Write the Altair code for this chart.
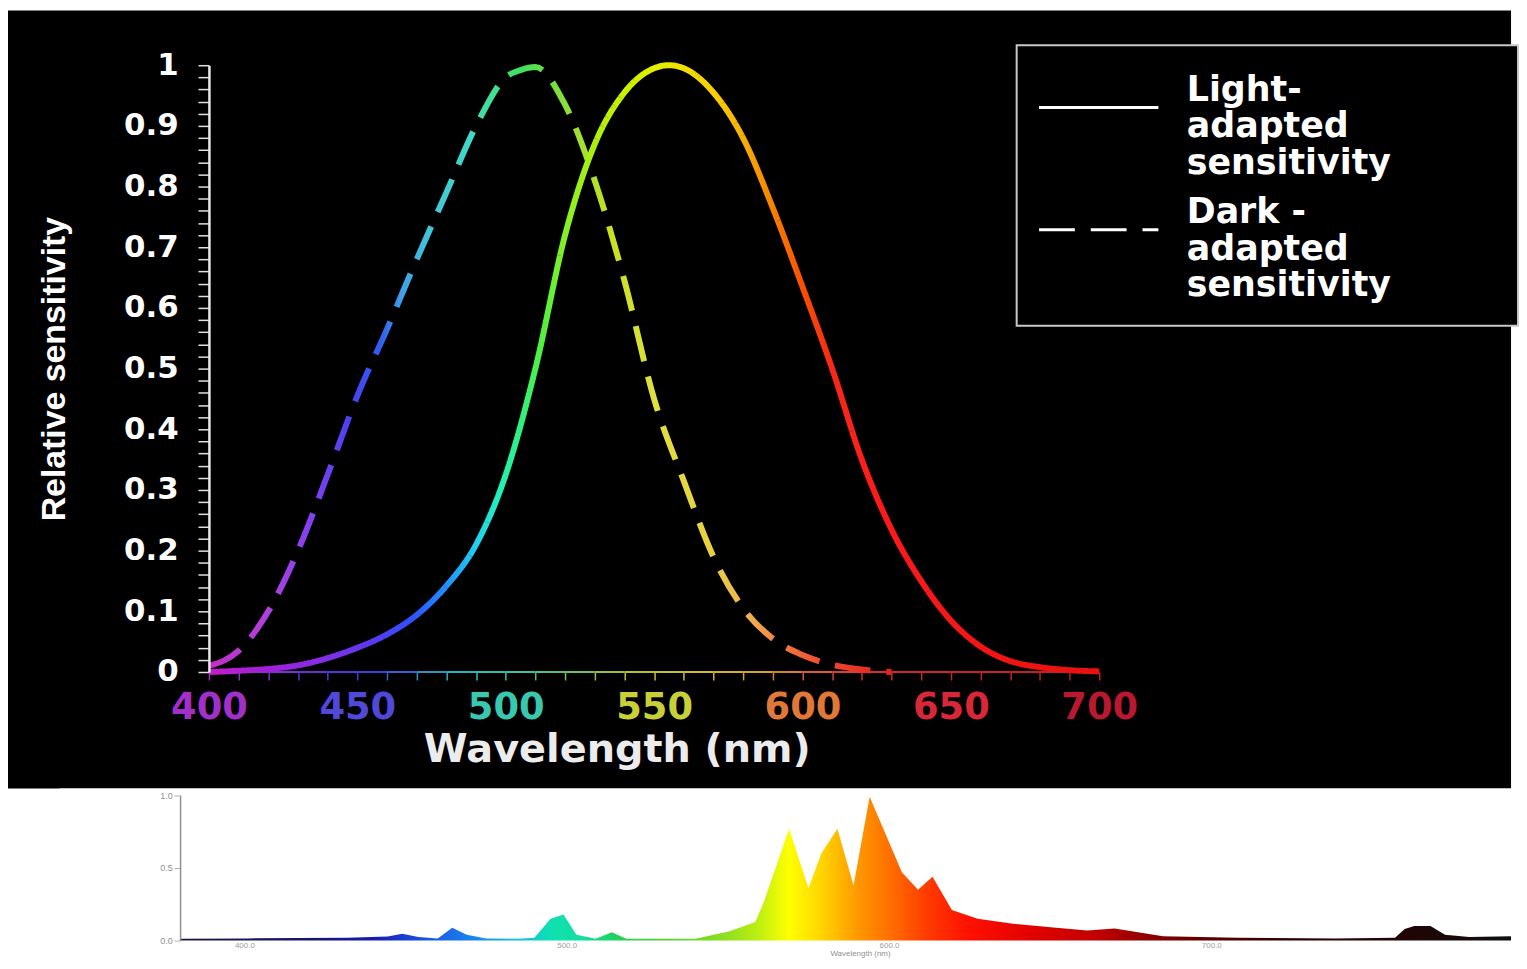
import json
import altair as alt
import pandas as pd

# ---------------- top chart data ----------------
light_wl = [400, 410, 420, 430, 440, 450, 460, 470, 480, 490, 500, 510, 520, 530, 540,
            550, 555, 560, 570, 580, 590, 600, 610, 620, 630, 640, 650, 660, 670, 680, 690, 700]
light_val = [0.0, 0.002, 0.005, 0.011, 0.023, 0.040, 0.062, 0.094, 0.142, 0.21, 0.325, 0.50,
             0.72, 0.87, 0.955, 0.995, 1.0, 0.995, 0.955, 0.88, 0.765, 0.635, 0.50, 0.35,
             0.235, 0.15, 0.085, 0.042, 0.018, 0.008, 0.003, 0.001]

dark_wl = [400, 410, 420, 430, 440, 450, 460, 470, 480, 490, 500, 505, 510, 520, 530, 540,
           550, 560, 570, 580, 590, 600, 610, 620, 630]
dark_val = [0.01, 0.035, 0.10, 0.20, 0.325, 0.455, 0.565, 0.68, 0.79, 0.90, 0.98, 0.992,
            0.997, 0.935, 0.81, 0.645, 0.45, 0.315, 0.19, 0.105, 0.055, 0.028, 0.012, 0.004, 0.0]

series_names = ["Light", "Dark"]
legend_lines = {"Light": ["Light-", "adapted", "sensitivity"],
                "Dark": ["Dark -", "adapted", "sensitivity"]}

light_stop_wl = [400, 420, 440, 455, 468, 480, 490, 497, 505, 512, 522, 535, 550, 560, 570,
                 580, 590, 600, 610, 625, 700]
light_stop_col = ["#c020c8", "#a020d8", "#8030e8", "#5a38f0", "#3050ff", "#2090ff", "#20d0f0",
                  "#20f0c0", "#30f080", "#50f040", "#90f020", "#c0f000", "#e0f000", "#f0e000",
                  "#f8d000", "#f8b000", "#f88000", "#f85000", "#f82818", "#ff1a1a", "#e81010"]

dark_stop_wl = [400, 420, 435, 448, 458, 465, 475, 488, 496, 505, 515, 525, 535, 550, 570,
                582, 592, 605, 630]
dark_stop_col = ["#c030c0", "#b040e0", "#8040f0", "#4a40f0", "#3060f0", "#40a0e8", "#40c8d8",
                 "#40d8c8", "#40e090", "#40e060", "#70e040", "#a0e030", "#c8e020", "#e0e040",
                 "#e8d040", "#f0b050", "#f08040", "#f05030", "#e02020"]

x_tick_wl = list(range(400, 701, 10))
x_tick_col = ["#a030c0", "#9030c8", "#8030d0", "#6a30d8", "#5035d8", "#4040d8", "#3860d0",
              "#3090c8", "#30b0c0", "#30c0b0", "#40c0a0", "#50c080", "#70c060", "#98c040",
              "#b8c030", "#c8c030", "#d0c030", "#d8b030", "#d8a030", "#d88030", "#d86030",
              "#d84030", "#d03030", "#d02828", "#d02828", "#c82424", "#c82424", "#c42222",
              "#c42222", "#c02020", "#c02020"]
x_label_wl = [400, 450, 500, 550, 600, 650, 700]
x_label_col = ["#a030c8", "#5048d8", "#38c8b0", "#c8d038", "#e07838", "#d82838", "#b81830"]

y_tick_vals = [round(i * 0.02, 2) for i in range(51)]

# ---------------- bottom chart data ----------------
spec_wl = [380, 401, 417, 432, 444.5, 449, 454, 460, 464.5, 469, 475, 485, 490, 495, 499, 503,
           509, 514, 518.5, 540, 550.5, 558.5, 561, 569, 575, 579, 584, 589, 594, 604, 609,
           613.5, 619.5, 627.5, 639, 651, 661.5, 670, 685, 708, 738.5, 757, 760, 763, 768,
           772.5, 780, 793]
spec_val = [0.012, 0.015, 0.018, 0.02, 0.028, 0.047, 0.025, 0.014, 0.088, 0.04, 0.014, 0.012,
            0.02, 0.15, 0.18, 0.04, 0.012, 0.058, 0.012, 0.012, 0.064, 0.128, 0.256, 0.77, 0.36,
            0.6, 0.77, 0.38, 0.99, 0.47, 0.35, 0.44, 0.21, 0.15, 0.115, 0.09, 0.07, 0.083,
            0.03, 0.02, 0.015, 0.02, 0.08, 0.10, 0.10, 0.04, 0.025, 0.03]
spec_stop_wl = [380, 420, 440, 455, 470, 485, 495, 505, 515, 530, 550, 560, 569, 580, 590,
                600, 612, 625, 645, 665, 690, 720, 760, 793]
spec_stop_col = ["#1a1a3a", "#151570", "#1a1ab0", "#1a50e0", "#1a80f0", "#10c0e0", "#10e0b0",
                 "#10e0a0", "#20d060", "#50d030", "#90e020", "#c0f010", "#ffff00", "#ffd000",
                 "#ff9a00", "#ff7000", "#ff3a00", "#ff1000", "#e00000", "#c00000", "#700000",
                 "#300000", "#200505", "#101010"]
spec_ticks = [400, 500, 600, 700]


def gradient(wls, cols, lo, hi):
    return alt.Gradient(
        gradient="linear",
        stops=[alt.GradientStop(offset=round((w - lo) / (hi - lo), 4), color=c)
               for w, c in zip(wls, cols)],
        x1=0, x2=1, y1=0, y2=0,
    )


def cond_colors(vals, cols, default):
    return {"condition": [{"test": f"datum.value == {v}", "value": c} for v, c in zip(vals, cols)],
            "value": default}


W1, H1 = 895, 610
W2, H2 = 1309, 146

one = pd.DataFrame({"k": [0]})

xscale = alt.Scale(domain=[400, 700], nice=False, zero=False)
yscale = alt.Scale(domain=[0, 1], nice=False, zero=True)

xaxis = alt.Axis(
    values=x_tick_wl, tickCount=len(x_tick_wl),
    labelExpr="datum.value % 50 == 0 ? datum.label : ''",
    labelColor=cond_colors(x_label_wl, x_label_col, "#c02020"),
    tickColor=cond_colors(x_tick_wl, x_tick_col, "#c02020"),
    tickSize=8, tickWidth=1.5, domain=False, grid=False,
    labelFont="DejaVu Sans", labelFontSize=37, labelFontWeight="bold",
    labelPadding=10, labelOverlap=False, labelFlush=False,
    title="Wavelength (nm)", titleColor="#ececec", titleFont="DejaVu Sans",
    titleFontSize=40, titleFontWeight="bold", titlePadding=4, titleX=410, zindex=1,
)
yaxis = alt.Axis(
    values=y_tick_vals, tickCount=len(y_tick_vals),
    labelExpr="round(datum.value * 50) % 5 == 0 ? format(datum.value, '~g') : ''",
    labelColor="white", labelFont="DejaVu Sans", labelFontSize=31, labelFontWeight="bold",
    labelPadding=20, labelOverlap=False, labelFlush=False,
    tickColor="#e0e0e0", tickSize=11, tickWidth=1.5,
    domainColor="#e8e8e8", domainWidth=2.5, grid=False,
    title="Relative sensitivity", titleColor="white", titleFont="Liberation Sans",
    titleFontSize=34, titleFontWeight="bold", titlePadding=52, zindex=1,
)

label_expr = ("datum.label == 'Light' ? " + json.dumps(legend_lines["Light"])
              + " : " + json.dumps(legend_lines["Dark"]))

# horizontal stroke symbol (120 px long at size 78^2); trailing move-to widens the legend box
legend_symbol = "M-1.538,0H1.538M10.08,0"

dash = alt.StrokeDash(
    "series:N",
    scale=alt.Scale(domain=series_names, range=[[1, 0], [36, 16]]),
    legend=alt.Legend(
        orient="none", legendX=812, legendY=-20, title=None,
        labelExpr=label_expr, symbolType=legend_symbol, symbolSize=6084,
        symbolStrokeWidth=3, symbolStrokeColor="white", symbolOffset=20,
        labelColor="white", labelFont="DejaVu Sans", labelFontSize=35,
        labelFontWeight="bold", labelLimit=700, labelOffset=48, labelBaseline="bottom",
        padding=22, rowPadding=8, strokeColor="#c8c8c8", fillColor="black", zindex=1,
    ),
)

bg_top = alt.Chart(one).mark_rect(color="black").encode(
    x=alt.value(-202), x2=alt.value(1309), y=alt.value(-55), y2=alt.value(H1 + 117)
)

seg_df = pd.DataFrame({"wl": x_tick_wl[:-1], "wl2": x_tick_wl[1:], "col": x_tick_col[:-1],
                       "v": [0.0] * (len(x_tick_wl) - 1)})
axis_line = alt.Chart(seg_df).mark_rule(strokeWidth=2).encode(
    x=alt.X("wl:Q", scale=xscale, axis=xaxis),
    x2="wl2:Q",
    y=alt.Y("v:Q", scale=yscale, axis=yaxis),
    color=alt.Color("col:N", scale=None),
)

light_df = pd.DataFrame({"wl": light_wl, "v": light_val, "series": series_names[0]})
dark_df = pd.DataFrame({"wl": dark_wl, "v": dark_val, "series": series_names[1]})

light_line = alt.Chart(light_df).mark_line(
    stroke=gradient(light_stop_wl, light_stop_col, min(light_wl), max(light_wl)),
    strokeWidth=6, interpolate="monotone",
).encode(
    x=alt.X("wl:Q", scale=xscale, axis=xaxis),
    y=alt.Y("v:Q", scale=yscale, axis=yaxis),
    strokeDash=dash,
)
dark_line = alt.Chart(dark_df).mark_line(
    stroke=gradient(dark_stop_wl, dark_stop_col, min(dark_wl), max(dark_wl)),
    strokeWidth=6, interpolate="monotone",
).encode(
    x=alt.X("wl:Q", scale=xscale, axis=xaxis),
    y=alt.Y("v:Q", scale=yscale, axis=yaxis),
    strokeDash=dash,
)

top = alt.layer(bg_top, axis_line, dark_line, light_line).properties(width=W1, height=H1)

# ---------------- bottom chart ----------------
# plot origin shares the top chart's left edge; 380 nm falls 29 px to its left
sxscale = alt.Scale(domain=[389, 793], nice=False, zero=False)
syscale = alt.Scale(domain=[0, 1], nice=False)

bg_bot = alt.Chart(one).mark_rect(color="white").encode(
    x=alt.value(-150), x2=alt.value(W2), y=alt.value(-7), y2=alt.value(H2 + 40)
)
spec_df = pd.DataFrame({"wl": spec_wl, "v": spec_val})
area = alt.Chart(spec_df).mark_area(
    fill=gradient(spec_stop_wl, spec_stop_col, min(spec_wl), max(spec_wl)),
    interpolate="linear",
).encode(
    x=alt.X("wl:Q", scale=sxscale, axis=alt.Axis(
        values=spec_ticks, tickCount=len(spec_ticks), format=".1f", labelColor="#a0a0a0",
        labelFontSize=8, labelPadding=1, domain=False, ticks=False, grid=False,
        title="Wavelength (nm)", titleColor="#909090", titleFontSize=8,
        titleFontWeight="normal", titlePadding=0,
        labelOverlap=False, labelFlush=False, zindex=1)),
    y=alt.Y("v:Q", scale=syscale, axis=alt.Axis(
        values=[0, 0.5, 1], tickCount=3, format=".1f", labelColor="#909090", labelFontSize=9,
        tickColor="#b0b0b0", tickSize=6, domainColor="#909090", domainWidth=1.5,
        offset=29, grid=False, title=None, labelFlush=False, zindex=1)),
)
bottom = alt.layer(bg_bot, area).properties(width=W2, height=H2)

chart = alt.ConcatChart(concat=[top, bottom], columns=1, spacing=0, align="none").properties(
    padding={"left": 0, "top": 0, "right": 0, "bottom": -24}, background="white"
).configure_view(strokeWidth=0).configure_legend(strokeWidth=2)

chart.save("out.html", embed_options={"renderer": "svg", "actions": False})
